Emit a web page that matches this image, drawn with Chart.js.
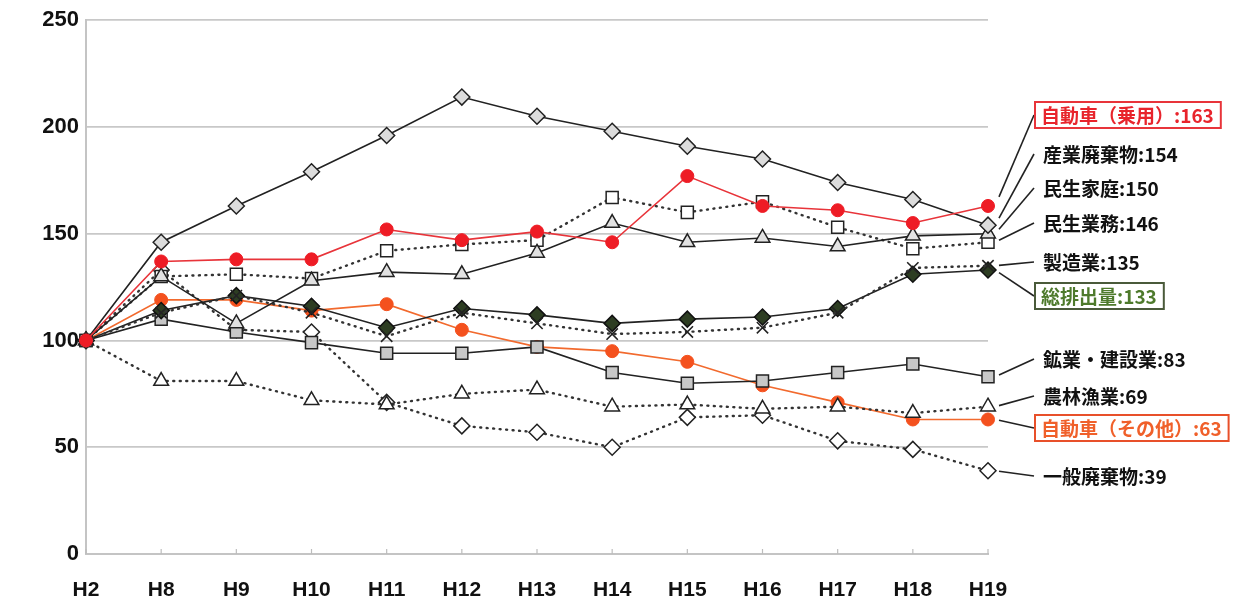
<!DOCTYPE html>
<html lang="ja">
<head>
<meta charset="utf-8">
<title>部門別排出量の推移（H2=100）</title>
<script src="https://cdn.jsdelivr.net/npm/chart.js@4"></script>
<style>
  html, body { margin: 0; padding: 0; background: #ffffff; }
  #wrap { width: 1246px; height: 605px; position: relative; }
</style>
</head>
<body>
<div id="wrap"><canvas id="c" width="1246" height="605"></canvas></div>
<script>
// 年度（H2 を基準年 = 100 とする指数）
const categories = ['H2', 'H8', 'H9', 'H10', 'H11', 'H12', 'H13', 'H14', 'H15', 'H16', 'H17', 'H18', 'H19'];

// 各部門の指数
const jidoushaJouyou  = [100, 137, 138, 138, 152, 147, 151, 146, 177, 163, 161, 155, 163];
const sangyouHaiki    = [100, 146, 163, 179, 196, 214, 205, 198, 191, 185, 174, 166, 154];
const minseiKatei     = [100, 130, 108, 128, 132, 131, 141, 155, 146, 148, 144, 149, 150];
const minseiGyoumu    = [100, 130, 131, 129, 142, 145, 147, 167, 160, 165, 153, 143, 146];
const seizougyou      = [100, 113, 121, 113, 102, 113, 108, 103, 104, 106, 113, 134, 135];
const souHaishutsu    = [100, 114, 121, 116, 106, 115, 112, 108, 110, 111, 115, 131, 133];
const kougyouKensetsu = [100, 110, 104,  99,  94,  94,  97,  85,  80,  81,  85,  89,  83];
const nourinGyogyou   = [100,  81,  81,  72,  70,  75,  77,  69,  70,  68,  69,  66,  69];
const jidoushaSonota  = [100, 119, 119, 114, 117, 105,  97,  95,  90,  79,  71,  63,  63];
const ippanHaiki      = [100, 133, 105, 104,  71,  60,  57,  50,  64,  65,  53,  49,  39];

// 縦軸目盛
const yTicks = [0, 50, 100, 150, 200, 250];

const DOT = [1, 5.5];
const solidBlack = { borderColor: '#222222', borderWidth: 1.6 };
const dottedBlack = { borderColor: '#333333', borderWidth: 2.4, borderDash: DOT, borderCapStyle: 'round' };

const datasets = [
  Object.assign({ label: '自動車（乗用）', data: jidoushaJouyou, pointStyle: 'circle', pointRadius: 6.5,
    pointBackgroundColor: '#ee1c25', pointBorderColor: '#ee1c25', pointBorderWidth: 1,
    borderColor: '#e8343a', borderWidth: 1.6 }),
  Object.assign({ label: '産業廃棄物', data: sangyouHaiki, pointStyle: 'rectRot', pointRadius: 8,
    pointBackgroundColor: '#dcdcdc', pointBorderColor: '#222', pointBorderWidth: 1.5 }, solidBlack),
  Object.assign({ label: '民生家庭', data: minseiKatei, pointStyle: 'triangle', pointRadius: 8.5,
    pointBackgroundColor: '#e2e2e2', pointBorderColor: '#222', pointBorderWidth: 1.5 }, solidBlack),
  Object.assign({ label: '民生業務', data: minseiGyoumu, pointStyle: 'rect', pointRadius: 8.5,
    pointBackgroundColor: '#ffffff', pointBorderColor: '#222', pointBorderWidth: 1.5 }, dottedBlack),
  Object.assign({ label: '製造業', data: seizougyou, pointStyle: 'crossRot', pointRadius: 8,
    pointBackgroundColor: '#222', pointBorderColor: '#222', pointBorderWidth: 1.6 }, dottedBlack),
  Object.assign({ label: '総排出量', data: souHaishutsu, pointStyle: 'rectRot', pointRadius: 8,
    pointBackgroundColor: '#2d3d22', pointBorderColor: '#111', pointBorderWidth: 1.5 }, solidBlack),
  Object.assign({ label: '鉱業・建設業', data: kougyouKensetsu, pointStyle: 'rect', pointRadius: 8.5,
    pointBackgroundColor: '#c8c8c8', pointBorderColor: '#222', pointBorderWidth: 1.5 }, solidBlack),
  Object.assign({ label: '農林漁業', data: nourinGyogyou, pointStyle: 'triangle', pointRadius: 8.5,
    pointBackgroundColor: '#ffffff', pointBorderColor: '#222', pointBorderWidth: 1.5 }, dottedBlack),
  Object.assign({ label: '自動車（その他）', data: jidoushaSonota, pointStyle: 'circle', pointRadius: 6.5,
    pointBackgroundColor: '#f4511e', pointBorderColor: '#f4511e', pointBorderWidth: 1,
    borderColor: '#f26a2e', borderWidth: 1.6 }),
  Object.assign({ label: '一般廃棄物', data: ippanHaiki, pointStyle: 'rectRot', pointRadius: 8,
    pointBackgroundColor: '#ffffff', pointBorderColor: '#222', pointBorderWidth: 1.5 }, dottedBlack)
];
datasets.forEach(d => { d.tension = 0; d.fill = false; d.pointHoverRadius = d.pointRadius; });

// 右側の系列名ラベル（表示位置と枠の色）
const labelRows = [
  { ds: 0, y: 115, color: '#e8242c', box: '#e8343a' },
  { ds: 1, y: 154, color: '#111111' },
  { ds: 2, y: 188, color: '#111111' },
  { ds: 3, y: 223, color: '#111111' },
  { ds: 4, y: 262, color: '#111111' },
  { ds: 5, y: 296, color: '#4e7a2c', box: '#4a5a3a' },
  { ds: 6, y: 359, color: '#111111' },
  { ds: 7, y: 396, color: '#111111' },
  { ds: 8, y: 428, color: '#f0602a', box: '#e8502a' },
  { ds: 9, y: 476, color: '#111111' }
];

const sideLabels = {
  id: 'sideLabels',
  afterDatasetsDraw(chart) {
    const ctx = chart.ctx;
    const xs = chart.scales.x, ys = chart.scales.y;
    const lastIdx = categories.length - 1;
    const px = xs.getPixelForValue(lastIdx);
    ctx.save();
    ctx.font = 'bold 19px "Noto Sans CJK JP", sans-serif';
    ctx.textBaseline = 'middle';
    labelRows.forEach(row => {
      const ds = chart.data.datasets[row.ds];
      const v = ds.data[lastIdx];
      const py = ys.getPixelForValue(v);
      const textX = row.box ? 1041 : 1043;
      // 引き出し線
      ctx.strokeStyle = '#222';
      ctx.lineWidth = 1.6;
      ctx.beginPath();
      ctx.moveTo(px + 11, py + (row.y - py) * 0.1);
      ctx.lineTo(1034, row.y);
      ctx.stroke();
      const text = ds.label + ':' + v;
      const w = ctx.measureText(text).width;
      if (row.box) {
        ctx.fillStyle = '#ffffff';
        ctx.fillRect(1035, row.y - 13, w + 13, 26);
        ctx.strokeStyle = row.box;
        ctx.lineWidth = 2;
        ctx.strokeRect(1035, row.y - 13, w + 13, 26);
      }
      ctx.fillStyle = row.color;
      ctx.fillText(text, textX, row.y + 1);
    });
    ctx.restore();
  }
};

// 横軸の内向き目盛線
const innerTicks = {
  id: 'innerTicks',
  beforeDatasetsDraw(chart) {
    const ctx = chart.ctx, xs = chart.scales.x, area = chart.chartArea;
    ctx.save();
    ctx.strokeStyle = '#bdbdbd';
    ctx.lineWidth = 1.2;
    for (let i = 0; i < categories.length; i++) {
      const x = xs.getPixelForValue(i);
      ctx.beginPath();
      ctx.moveTo(x, area.bottom);
      ctx.lineTo(x, area.bottom - 5);
      ctx.stroke();
    }
    ctx.restore();
  }
};

new Chart(document.getElementById('c'), {
  type: 'line',
  data: { labels: categories, datasets },
  plugins: [innerTicks, sideLabels],
  options: {
    responsive: false,
    animation: false,
    layout: { padding: { top: 20, right: 258, left: 0, bottom: 0 } },
    plugins: { legend: { display: false }, tooltip: { enabled: false } },
    scales: {
      x: {
        offset: false,
        afterFit(s) { s.height = 51; },
        grid: { display: false, drawTicks: false },
        border: { display: true, color: '#c4c4c4', width: 2 },
        ticks: { color: '#111', padding: 24, maxRotation: 0, autoSkip: false,
          font: { family: '"Liberation Sans", Arial, sans-serif', size: 21, weight: 'bold' } }
      },
      y: {
        min: 0, max: 250,
        afterFit(s) { s.width = 86; },
        afterBuildTicks(s) { s.ticks = yTicks.map(v => ({ value: v })); },
        grid: { color: '#c8c8c8', lineWidth: 1.8, drawTicks: false },
        border: { display: true, color: '#c4c4c4', width: 2 },
        ticks: { color: '#111', padding: 7,
          font: { family: '"Liberation Sans", Arial, sans-serif', size: 22, weight: 'bold' } }
      }
    }
  }
});
</script>
</body>
</html>
